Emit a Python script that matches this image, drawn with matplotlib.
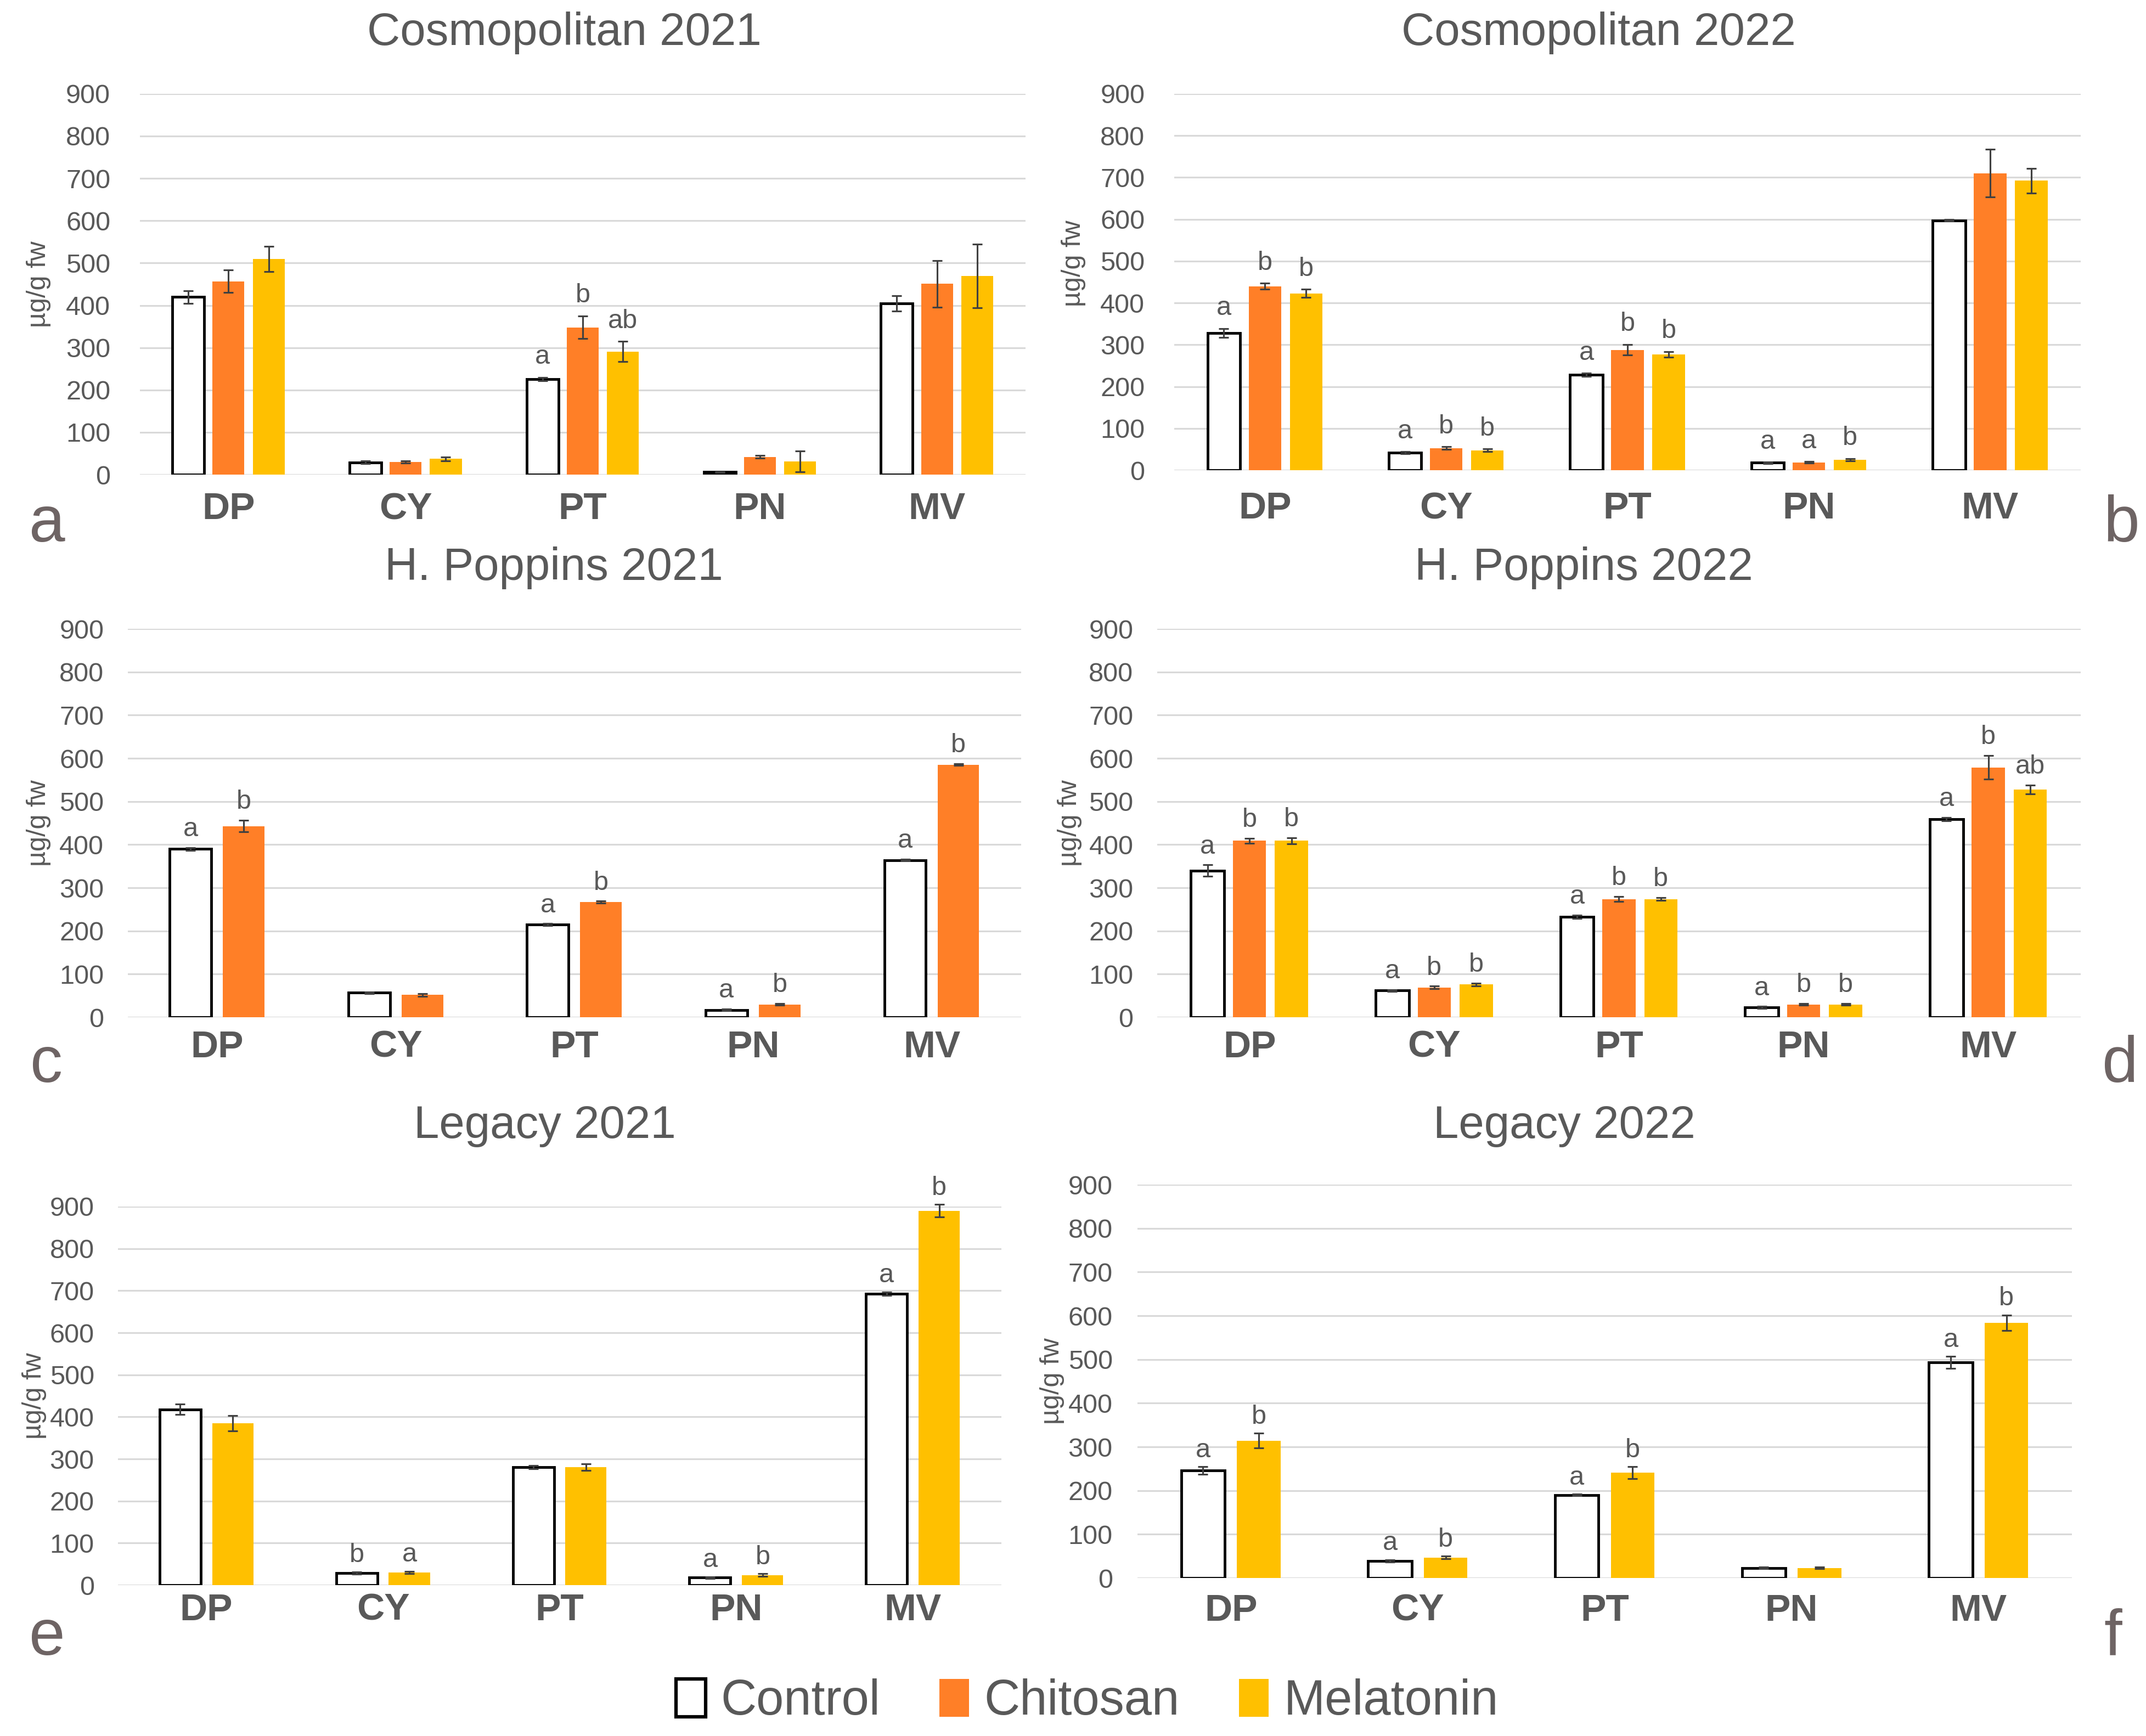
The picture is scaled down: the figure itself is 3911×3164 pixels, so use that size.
import numpy as np
import matplotlib.pyplot as plt
from matplotlib.patches import Patch

plt.rcParams['font.family'] = ['Liberation Sans', 'DejaVu Sans']

categories = ['DP', 'CY', 'PT', 'PN', 'MV']
colors = {'Control': '#ffffff', 'Chitosan': '#ff7f27', 'Melatonin': '#ffc000'}
grey = '#595959'

# a - Cosmopolitan 2021
cos21_control = [420, 29, 226, 6, 405]
cos21_control_err = [15, 3, 4, 1, 18]
cos21_control_sig = ['', '', 'a', '', '']
cos21_chitosan = [457, 30, 348, 42, 451]
cos21_chitosan_err = [27, 3, 27, 3, 55]
cos21_chitosan_sig = ['', '', 'b', '', '']
cos21_melatonin = [510, 37, 291, 31, 469]
cos21_melatonin_err = [30, 4, 24, 25, 75]
cos21_melatonin_sig = ['', '', 'ab', '', '']

# b - Cosmopolitan 2022
cos22_control = [328, 42, 228, 18, 597]
cos22_control_err = [11, 3, 4, 2, 2]
cos22_control_sig = ['a', 'a', 'a', 'a', '']
cos22_chitosan = [440, 53, 288, 19, 710]
cos22_chitosan_err = [7, 3, 13, 2, 57]
cos22_chitosan_sig = ['b', 'b', 'b', 'a', '']
cos22_melatonin = [423, 48, 277, 25, 692]
cos22_melatonin_err = [10, 3, 7, 3, 30]
cos22_melatonin_sig = ['b', 'b', 'b', 'b', '']

# c - H. Poppins 2021
hp21_control = [390, 57, 215, 17, 364]
hp21_control_err = [3, 2, 2, 2, 2]
hp21_control_sig = ['a', '', 'a', 'a', 'a']
hp21_chitosan = [443, 52, 267, 30, 585]
hp21_chitosan_err = [13, 3, 2, 2, 2]
hp21_chitosan_sig = ['b', '', 'b', 'b', 'b']

# d - H. Poppins 2022
hp22_control = [340, 62, 233, 23, 459]
hp22_control_err = [13, 2, 4, 2, 4]
hp22_control_sig = ['a', 'a', 'a', 'a', 'a']
hp22_chitosan = [409, 69, 274, 30, 579]
hp22_chitosan_err = [6, 3, 6, 2, 27]
hp22_chitosan_sig = ['b', 'b', 'b', 'b', 'b']
hp22_melatonin = [409, 76, 274, 30, 528]
hp22_melatonin_err = [7, 3, 3, 2, 10]
hp22_melatonin_sig = ['b', 'b', 'b', 'b', 'ab']

# e - Legacy 2021
leg21_control = [418, 29, 280, 18, 693]
leg21_control_err = [12, 3, 4, 2, 4]
leg21_control_sig = ['', 'b', '', 'a', 'a']
leg21_melatonin = [385, 30, 280, 24, 890]
leg21_melatonin_err = [18, 3, 8, 3, 15]
leg21_melatonin_sig = ['', 'a', '', 'b', 'b']

# f - Legacy 2022
leg22_control = [246, 39, 190, 23, 493]
leg22_control_err = [9, 3, 2, 2, 14]
leg22_control_sig = ['a', 'a', 'a', '', 'a']
leg22_melatonin = [314, 47, 241, 23, 584]
leg22_melatonin_err = [17, 3, 14, 2, 18]
leg22_melatonin_sig = ['b', 'b', 'b', '', 'b']

panels = [
    dict(title='Cosmopolitan 2021', letter='a',
         series=[('Control', cos21_control, cos21_control_err, cos21_control_sig),
                 ('Chitosan', cos21_chitosan, cos21_chitosan_err, cos21_chitosan_sig),
                 ('Melatonin', cos21_melatonin, cos21_melatonin_err, cos21_melatonin_sig)],
         rect=[0.0652, 0.7266, 0.4127, 0.2194], title_xy=(0.263, 0.981), letter_xy=(0.022, 0.688),
         ylab=(-0.114, 0.5), ypad=15.5, xpad=9, sgap=7),
    dict(title='Cosmopolitan 2022', letter='b',
         series=[('Control', cos22_control, cos22_control_err, cos22_control_sig),
                 ('Chitosan', cos22_chitosan, cos22_chitosan_err, cos22_chitosan_sig),
                 ('Melatonin', cos22_melatonin, cos22_melatonin_err, cos22_melatonin_sig)],
         rect=[0.5472, 0.7291, 0.4224, 0.2169], title_xy=(0.745, 0.981), letter_xy=(0.9885, 0.688),
         ylab=(-0.111, 0.55), ypad=15.5, xpad=11, sgap=7),
    dict(title='H. Poppins 2021', letter='c',
         series=[('Control', hp21_control, hp21_control_err, hp21_control_sig),
                 ('Chitosan', hp21_chitosan, hp21_chitosan_err, hp21_chitosan_sig)],
         rect=[0.0595, 0.4140, 0.4163, 0.2238], title_xy=(0.258, 0.673), letter_xy=(0.0215, 0.3767),
         ylab=(-0.0995, 0.5), ypad=12.5, xpad=6.5, sgap=6),
    dict(title='H. Poppins 2022', letter='d',
         series=[('Control', hp22_control, hp22_control_err, hp22_control_sig),
                 ('Chitosan', hp22_chitosan, hp22_chitosan_err, hp22_chitosan_sig),
                 ('Melatonin', hp22_melatonin, hp22_melatonin_err, hp22_melatonin_sig)],
         rect=[0.5392, 0.4140, 0.4304, 0.2238], title_xy=(0.738, 0.673), letter_xy=(0.988, 0.3767),
         ylab=(-0.0945, 0.5), ypad=12.5, xpad=6.5, sgap=6),
    dict(title='Legacy 2021', letter='e',
         series=[('Control', leg21_control, leg21_control_err, leg21_control_sig),
                 ('Melatonin', leg21_melatonin, leg21_melatonin_err, leg21_melatonin_sig)],
         rect=[0.0550, 0.0869, 0.4116, 0.2181], title_xy=(0.254, 0.3515), letter_xy=(0.022, 0.0468),
         ylab=(-0.095, 0.5), ypad=12.5, xpad=4, sgap=5),
    dict(title='Legacy 2022', letter='f',
         series=[('Control', leg22_control, leg22_control_err, leg22_control_sig),
                 ('Melatonin', leg22_melatonin, leg22_melatonin_err, leg22_melatonin_sig)],
         rect=[0.5300, 0.0910, 0.4355, 0.2266], title_xy=(0.729, 0.3515), letter_xy=(0.9846, 0.0468),
         ylab=(-0.091, 0.5), ypad=13, xpad=8, sgap=5),
]

fig = plt.figure(figsize=(15.644, 12.656), dpi=250)
x = np.arange(len(categories))

for p in panels:
    ax = fig.add_axes(p['rect'])
    n = len(p['series'])
    if n == 3:
        width, offsets = 0.18, [-0.227, 0, 0.227]
    else:
        width, offsets = 0.233, [-0.149, 0.149]
    for (name, vals, errs, sig), off in zip(p['series'], offsets):
        edge = 'black' if name == 'Control' else colors[name]
        lw = 1.4 if name == 'Control' else 0
        bars = ax.bar(x + off, vals, width, color=colors[name], edgecolor=edge, linewidth=lw,
                      yerr=errs, error_kw=dict(ecolor='#404040', elinewidth=0.9, capsize=2.5, capthick=0.9),
                      zorder=3)
        for ln in bars.errorbar.lines[1] + bars.errorbar.lines[2]:
            ln.set_clip_on(False)
        for xi, v, e, s in zip(x + off, vals, errs, sig):
            if s:
                ax.annotate(s, (xi, v + e), xytext=(0, p['sgap']), textcoords='offset points',
                            ha='center', va='baseline', fontsize=14, color=grey,
                            annotation_clip=False)
    ax.set_xlim(-0.5, len(categories) - 0.5)
    ax.set_ylim(0, 900)
    ax.set_yticks(range(0, 901, 100))
    ax.set_xticks(x)
    ax.set_xticklabels(categories, fontsize=20, fontweight='bold', color=grey)
    ax.tick_params(axis='y', length=0, labelsize=14, labelcolor=grey, pad=p['ypad'])
    ax.tick_params(axis='x', length=0, pad=p['xpad'])
    ax.yaxis.grid(True, color='#d9d9d9', linewidth=0.9, zorder=0)
    ax.set_axisbelow(True)
    for sp in ax.spines.values():
        sp.set_visible(False)
    ax.text(p['ylab'][0], p['ylab'][1], 'µg/g fw', transform=ax.transAxes, rotation=90,
            ha='center', va='center', fontsize=14, color=grey)
    fig.text(p['title_xy'][0], p['title_xy'][1], p['title'], ha='center', va='center',
             fontsize=24, color=grey)
    fig.text(p['letter_xy'][0], p['letter_xy'][1], p['letter'], ha='center', va='baseline',
             fontsize=34, color='#6e6464')

handles = [Patch(facecolor=colors[k], edgecolor='black' if k == 'Control' else colors[k],
                 linewidth=1.8 if k == 'Control' else 0, label=k)
           for k in ['Control', 'Chitosan', 'Melatonin']]
fig.legend(handles=handles, loc='center', bbox_to_anchor=(0.5066, 0.0196), ncol=3, frameon=False,
           fontsize=26, labelcolor=grey, handlelength=0.6, handleheight=0.8,
           handletextpad=0.3, columnspacing=1.2)

fig.savefig('out.png', dpi=250, facecolor='white')
